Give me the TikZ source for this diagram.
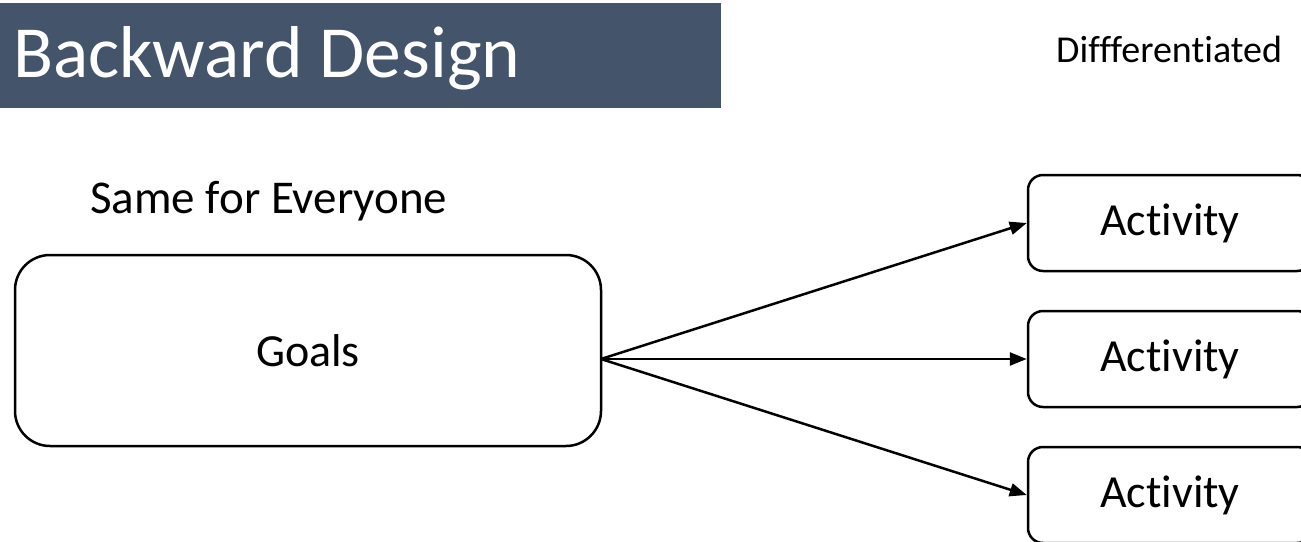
\documentclass[tikz,border=0pt]{standalone}
\usepackage{fontspec}
\setmainfont{Carlito}[Ligatures=NoCommon]
\usetikzlibrary{arrows.meta}
\definecolor{titlebg}{HTML}{44546A}
\tikzset{
  goalbox/.style={draw=black, line width=2.5pt, rounded corners=35pt, minimum width=586pt, minimum height=191pt, inner sep=0pt, font=\fontsize{46}{50}\selectfont},
  actbox/.style={draw=black, line width=2.5pt, rounded corners=15pt, minimum width=284pt, minimum height=96pt, inner sep=0pt, font=\fontsize{46}{50}\selectfont},
  conn/.style={line width=2.5pt, -{Triangle[length=17pt, width=13pt]}},
  lbl/.style={inner sep=0pt, anchor=base west}
}
\begin{document}
\begin{tikzpicture}[x=1pt, y=-1pt]
\useasboundingbox (0,0) rectangle (1301,541);
\clip (0,0) rectangle (1301,541);
\fill[titlebg] (0,3) rectangle (721,108);
\node[lbl, text=white, font=\fontsize{73.5}{80}\selectfont] (title) at (13,77) {Backward Design};
\node[lbl, font=\fontsize{38}{42}\selectfont] (diff) at (1056,62) {Diffferentiated};
\node[lbl, font=\fontsize{47}{52}\selectfont] (same) at (90,213) {Same for Everyone};
\node[goalbox] (goals) at (308,350.5) {Goals};
\node[actbox] (a1) at (1170,223) {Activity};
\node[actbox] (a2) at (1170,359) {Activity};
\node[actbox] (a3) at (1170,495) {Activity};
\coordinate (src) at (601,359);
\draw[conn] (src) -- (a1.west);
\draw[conn] (src) -- (a2.west);
\draw[conn] (src) -- (a3.west);
\end{tikzpicture}
\end{document}
